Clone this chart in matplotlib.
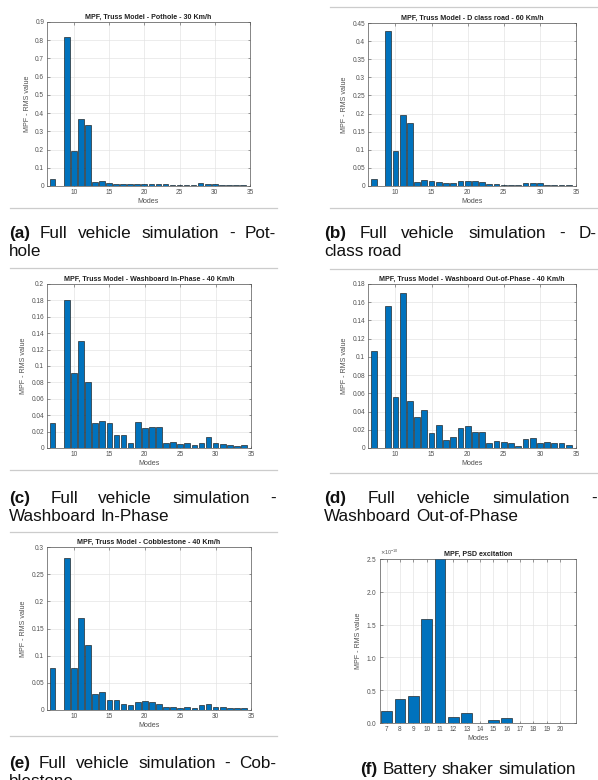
import matplotlib
matplotlib.use("Agg")
import matplotlib.pyplot as plt
from matplotlib.ticker import ScalarFormatter, FormatStrFormatter

plt.rcParams["font.family"] = ["Liberation Sans", "DejaVu Sans"]

W, H = 598, 780

# ---------------- data ----------------
modes = [7, 9, 10, 11, 12, 13, 14, 15, 16, 17, 18, 19, 20, 21, 22,
         23, 24, 25, 26, 27, 28, 29, 30, 31, 32, 33, 34]

pothole = [0.037, 0.82, 0.19, 0.365, 0.333, 0.022, 0.030, 0.015, 0.012, 0.010,
           0.010, 0.012, 0.012, 0.010, 0.012, 0.010, 0.007, 0.004, 0.005, 0.008,
           0.018, 0.010, 0.012, 0.003, 0.003, 0.003, 0.003]
d_class = [0.018, 0.428, 0.096, 0.196, 0.175, 0.012, 0.017, 0.015, 0.010, 0.009,
           0.007, 0.014, 0.013, 0.013, 0.011, 0.006, 0.005, 0.002, 0.004, 0.004,
           0.008, 0.007, 0.007, 0.003, 0.002, 0.002, 0.002]
wb_in = [0.031, 0.181, 0.091, 0.130, 0.080, 0.031, 0.033, 0.031, 0.016, 0.016,
         0.006, 0.032, 0.024, 0.025, 0.025, 0.006, 0.007, 0.005, 0.006, 0.004,
         0.006, 0.014, 0.006, 0.005, 0.004, 0.003, 0.004]
wb_out = [0.107, 0.156, 0.056, 0.170, 0.052, 0.034, 0.042, 0.016, 0.025, 0.009,
          0.012, 0.022, 0.024, 0.018, 0.018, 0.005, 0.008, 0.007, 0.005, 0.002,
          0.010, 0.011, 0.005, 0.007, 0.005, 0.005, 0.003]
cobble = [0.077, 0.280, 0.077, 0.170, 0.119, 0.030, 0.034, 0.019, 0.019, 0.011,
          0.010, 0.015, 0.017, 0.014, 0.011, 0.006, 0.005, 0.003, 0.006, 0.004,
          0.009, 0.011, 0.006, 0.006, 0.004, 0.004, 0.004]

psd_modes = [7, 8, 9, 10, 11, 12, 13, 14, 15, 16, 17, 18, 19, 20]
psd_values = [0.18e-10, 0.36e-10, 0.41e-10, 1.59e-10, 2.6e-10, 0.09e-10, 0.15e-10,
              0.005e-10, 0.05e-10, 0.08e-10, 0.005e-10, 0.0, 0.005e-10, 0.0]

titles = ["MPF, Truss Model - Pothole - 30 Km/h",
          "MPF, Truss Model - D class road - 60 Km/h",
          "MPF, Truss Model - Washboard In-Phase - 40 Km/h",
          "MPF, Truss Model - Washboard Out-of-Phase - 40 Km/h",
          "MPF, Truss Model - Cobblestone - 40 Km/h",
          "MPF, PSD excitation"]
ymax = [0.9, 0.45, 0.2, 0.18, 0.3, 2.5e-10]
ystep = [0.1, 0.05, 0.02, 0.02, 0.05, 0.5e-10]

BAR = "#0072BD"
TXT = "#505050"


def px_rect(l, t, r, b):
    return [l / W, 1 - b / H, (r - l) / W, (b - t) / H]


def style(ax, title, top, step):
    ax.set_ylim(0, top)
    n = int(round(top / step))
    ax.set_yticks([i * step for i in range(n + 1)])
    ax.set_title(title, fontsize=5.1, fontweight="bold", pad=2, color="#202020")
    ax.set_xlabel("Modes", fontsize=5.1, color=TXT, labelpad=1.5)
    ax.set_ylabel("MPF - RMS value", fontsize=5.1, color=TXT, labelpad=3)
    ax.tick_params(labelsize=4.7, colors=TXT, direction="in", length=1.8,
                   width=0.4, top=True, right=True, pad=2)
    ax.grid(True, color="#e2e2e2", linewidth=0.45)
    ax.set_axisbelow(True)
    for s in ax.spines.values():
        s.set_color("#555555")
        s.set_linewidth(0.5)


fig = plt.figure(figsize=(W / 100, H / 100), dpi=100)

rects = [(47, 22, 250, 186), (368, 23, 576, 186),
         (47, 284, 251, 448), (368, 284, 576, 448),
         (47, 547, 251, 710)]
series = [pothole, d_class, wb_in, wb_out, cobble]

for i, (rc, vals) in enumerate(zip(rects, series)):
    ax = fig.add_axes(px_rect(*rc))
    ax.bar(modes, vals, width=0.8, color=BAR, edgecolor="#1a1a1a", linewidth=0.45)
    ax.set_xlim(6.2, 35)
    ax.set_xticks([10, 15, 20, 25, 30, 35])
    style(ax, titles[i], ymax[i], ystep[i])
    ax.yaxis.set_major_formatter(FormatStrFormatter("%g"))

# battery shaker panel
ax = fig.add_axes(px_rect(380, 559, 576, 723))
ax.bar(psd_modes, psd_values, width=0.8, color=BAR, edgecolor="#1a1a1a", linewidth=0.45)
ax.set_xlim(6.5, 21.2)
ax.set_xticks(psd_modes)
style(ax, titles[5], ymax[5], ystep[5])
fmt = ScalarFormatter(useMathText=True)
fmt.set_powerlimits((0, 0))
ax.yaxis.set_major_formatter(fmt)
ax.yaxis.get_offset_text().set_fontsize(3.8)
ax.yaxis.get_offset_text().set_color(TXT)

# ---------------- separator lines ----------------
gray = "#cccccc"
for y, x0, x1 in [(208, 10, 277), (268, 10, 277), (470, 10, 277),
                  (532, 10, 277), (736, 10, 277),
                  (7, 330, 598), (208, 330, 598), (269, 330, 598), (473, 330, 598)]:
    fig.add_artist(plt.Line2D([x0 / W, x1 / W], [1 - y / H, 1 - y / H],
                              color=gray, linewidth=0.9, transform=fig.transFigure))

# ---------------- captions ----------------
CAP = 12.3
renderer = fig.canvas.get_renderer()


def make_words(words, y):
    objs = []
    for w in words:
        bold = w.startswith("(") and w.endswith(")")
        t = fig.text(0, 1 - y / H, w, fontsize=CAP, va="baseline", ha="left",
                     fontweight="bold" if bold else "normal", color="#111111")
        objs.append(t)
    widths = [t.get_window_extent(renderer).width for t in objs]
    return objs, widths


def justified(words, x0, x1, y):
    objs, widths = make_words(words, y)
    gap = (x1 - x0 - sum(widths)) / (len(objs) - 1)
    x = x0
    for t, wd in zip(objs, widths):
        t.set_x(x / W)
        x += wd + gap


def plain(words, x0, y, gap=4.7):
    objs, widths = make_words(words, y)
    x = x0
    for t, wd in zip(objs, widths):
        t.set_x(x / W)
        x += wd + gap


def centered(words, xc, y, gap=4.7):
    objs, widths = make_words(words, y)
    total = sum(widths) + gap * (len(objs) - 1)
    plain(words, xc - total / 2, y, gap)
    for t in objs:
        t.remove()


justified(["(a)", "Full", "vehicle", "simulation", "-", "Pot-"], 9, 276, 238)
plain(["hole"], 9, 256)
justified(["(b)", "Full", "vehicle", "simulation", "-", "D-"], 324, 597, 238)
plain(["class", "road"], 324, 256)
justified(["(c)", "Full", "vehicle", "simulation", "-"], 9, 276, 503)
plain(["Washboard", "In-Phase"], 9, 521)
justified(["(d)", "Full", "vehicle", "simulation", "-"], 324, 597, 503)
plain(["Washboard", "Out-of-Phase"], 324, 521)
justified(["(e)", "Full", "vehicle", "simulation", "-", "Cob-"], 9, 276, 768)
plain(["blestone"], 9, 786)
centered(["(f)", "Battery", "shaker", "simulation"], 468, 774)

fig.savefig("out.png", dpi=100, facecolor="white")
